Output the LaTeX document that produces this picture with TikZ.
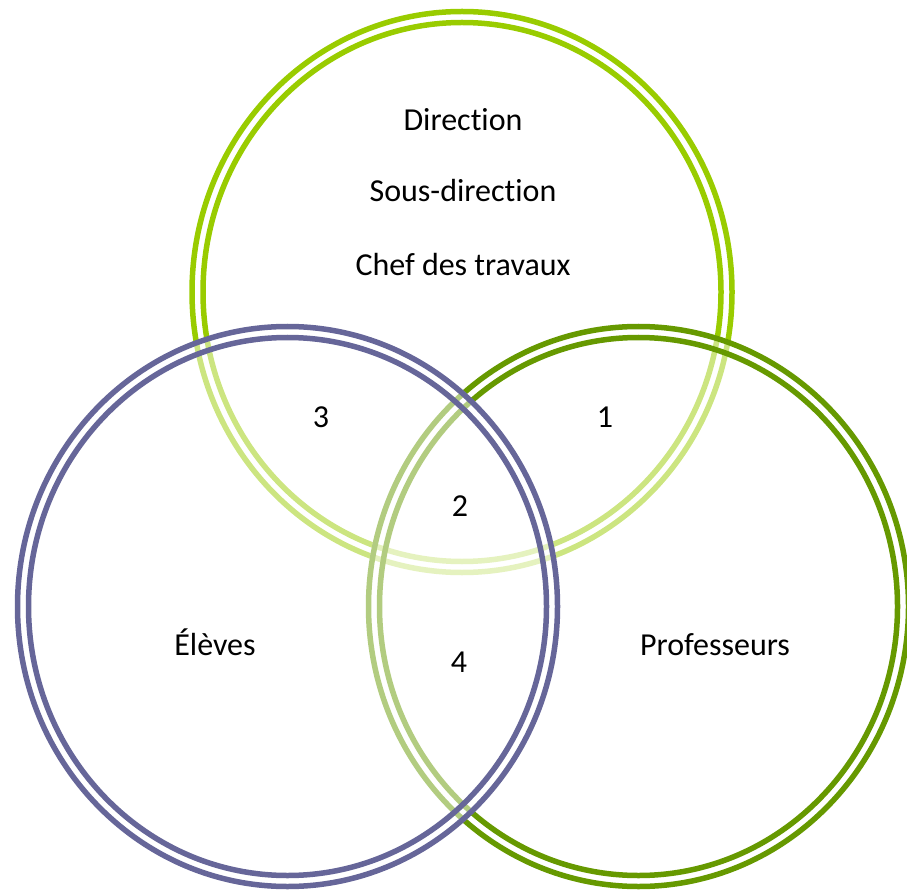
\documentclass[tikz,border=0pt]{standalone}
\usepackage{fontspec}
\setmainfont{Carlito}[Ligatures={NoCommon,NoRequired,NoContextual}]
\definecolor{lime}{HTML}{99CC00}
\definecolor{dgreen}{HTML}{669900}
\definecolor{slate}{HTML}{666699}
\tikzset{
  ring/.style={line width=5.5pt},
  veil/.style={fill=white, fill opacity=0.5, draw=none},
  lbl/.style={anchor=base, inner sep=0pt, font=\fontsize{32}{38}\selectfont}
}
\begin{document}
\begin{tikzpicture}[x=1pt,y=-1pt]
\useasboundingbox (0,0) rectangle (907,890);
\clip (0,0) rectangle (907,890);
% top circle
\draw[ring, lime] (462,292) ellipse [x radius=270, y radius=280.5];
\draw[ring, lime] (462,292) ellipse [x radius=259, y radius=269.5];
% right circle
\fill[veil] (638.5,606.5) ellipse [x radius=272.75, y radius=282.25];
\draw[ring, dgreen] (638.5,606.5) ellipse [x radius=270, y radius=280];
\draw[ring, dgreen] (638.5,606.5) ellipse [x radius=259, y radius=269];
% left circle
\fill[veil] (287.5,606.5) ellipse [x radius=272.75, y radius=282.25];
\draw[ring, slate] (287.5,606.5) ellipse [x radius=270, y radius=280];
\draw[ring, slate] (287.5,606.5) ellipse [x radius=259, y radius=269];
% texts
\node[lbl] (dir) at (463,131) {Direction};
\node[lbl] (sdir) at (463,202) {Sous-direction};
\node[lbl] (chef) at (463,276) {Chef des travaux};
\node[lbl] (n3) at (321,427) {3};
\node[lbl] (n1) at (605,427) {1};
\node[lbl] (n2) at (460,516) {2};
\node[lbl] (n4) at (459,672) {4};
\node[lbl] (el) at (215,655) {Élèves};
\node[lbl] (prof) at (715,655) {Professeurs};
\end{tikzpicture}
\end{document}
